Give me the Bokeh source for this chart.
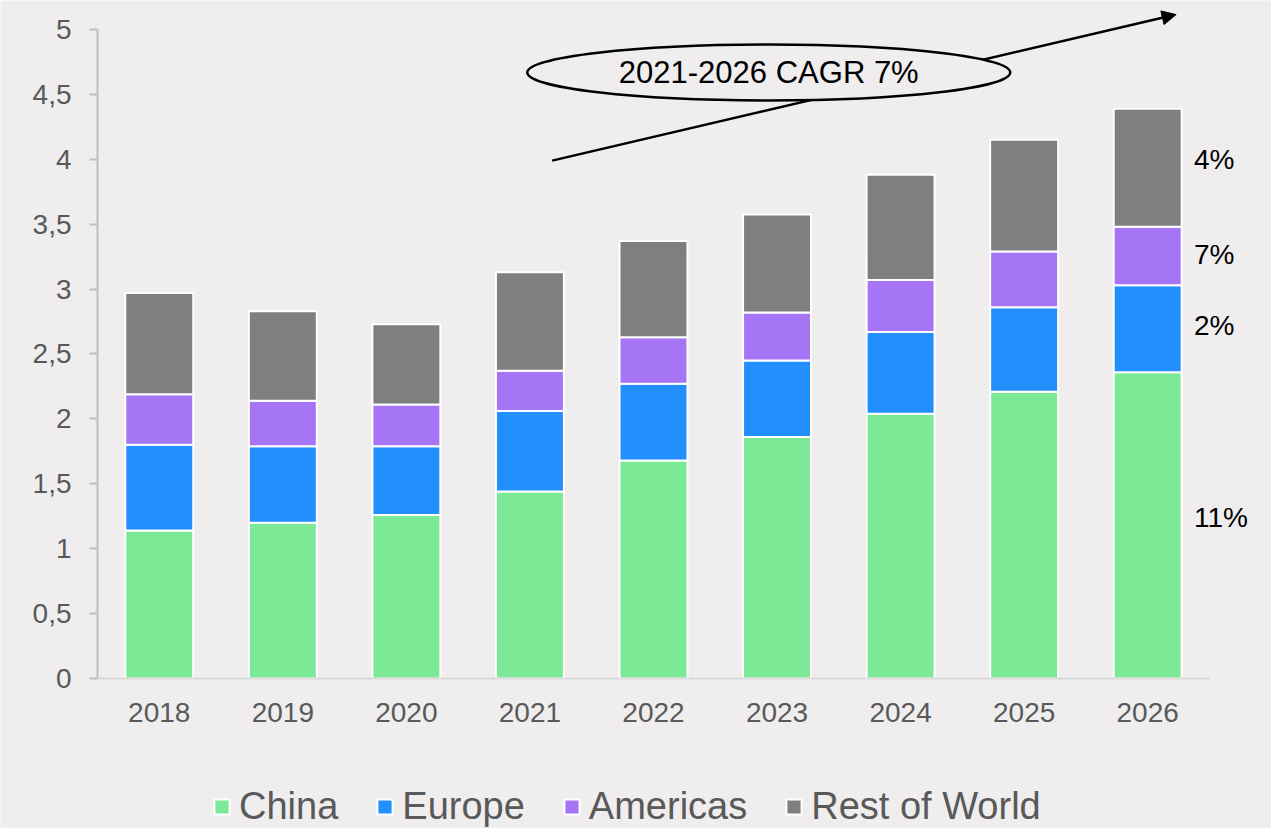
from bokeh.plotting import figure
from bokeh.models import (ColumnDataSource, Range1d, FixedTicker, CustomJSTickFormatter,
                          Label, Arrow, NormalHead)
from bokeh.core.properties import value
from bokeh.embed import file_html
from bokeh.resources import INLINE

years = ["2018", "2019", "2020", "2021", "2022", "2023", "2024", "2025", "2026"]
series = ["China", "Europe", "Americas", "Rest of World"]
china = [1.14, 1.20, 1.26, 1.44, 1.68, 1.86, 2.04, 2.21, 2.36]
europe = [0.66, 0.59, 0.53, 0.62, 0.59, 0.59, 0.63, 0.65, 0.67]
americas = [0.39, 0.35, 0.32, 0.31, 0.36, 0.37, 0.40, 0.43, 0.45]
rest = [0.78, 0.69, 0.62, 0.76, 0.74, 0.755, 0.81, 0.86, 0.91]
colors = ["#7CE996", "#238FFC", "#A675F5", "#7F7F7F"]
y_ticks = [0, 0.5, 1, 1.5, 2, 2.5, 3, 3.5, 4, 4.5, 5]
cagr_text = "2021-2026 CAGR 7%"
segment_cagr = ["11%", "2%", "7%", "4%"]
segment_label_y = [1.24, 2.72, 3.27, 4.0]

BG = "#EFEDEE"
FONT = "Liberation Sans"

xs = list(range(len(years)))
source = ColumnDataSource(dict(x=xs, China=china, Europe=europe, Americas=americas,
                               **{"Rest of World": rest}))

# frame covers the whole canvas; axes are placed at fixed locations
p = figure(width=1271, height=828, output_backend="svg", toolbar_location=None,
           x_range=Range1d(-1.285, 9.002), y_range=Range1d(-1.1556, 5.2234),
           min_border_left=0, min_border_right=0, min_border_top=0, min_border_bottom=0)
p.background_fill_color = BG
p.border_fill_color = BG
p.outline_line_color = None
p.xgrid.visible = False
p.ygrid.visible = False

p.vbar_stack(series, x="x", width=0.55, color=colors, line_color="white", line_width=2,
             source=source, legend_label=series)

# y axis
ya = p.yaxis[0]
ya.fixed_location = -0.5
ya.ticker = FixedTicker(ticks=y_ticks)
ya.formatter = CustomJSTickFormatter(code="return tick.toString().replace('.', ',');")
ya.bounds = (0, 5)
ya.axis_line_color = "#BFBFBF"
ya.axis_line_width = 2
ya.major_tick_line_color = "#BFBFBF"
ya.major_tick_line_width = 2
ya.major_tick_out = 8
ya.major_tick_in = 0
ya.minor_tick_line_color = None
ya.major_label_text_font = FONT
ya.major_label_text_font_size = "28px"
ya.major_label_text_color = "#595959"
ya.major_label_standoff = 18

# x axis
xa = p.xaxis[0]
xa.fixed_location = 0
xa.bounds = (-0.5, 8.5)
xa.ticker = FixedTicker(ticks=xs)
xa.major_label_overrides = {i: y for i, y in zip(xs, years)}
xa.axis_line_color = "#D9D9D9"
xa.axis_line_width = 2
xa.major_tick_line_color = None
xa.minor_tick_line_color = None
xa.major_label_text_font = FONT
xa.major_label_text_font_size = "28px"
xa.major_label_text_color = "#595959"
xa.major_label_standoff = 18

# legend
lg = p.legend[0]
lg.orientation = "horizontal"
lg.location = (212, 0)
lg.background_fill_alpha = 0
lg.border_line_color = None
lg.padding = 0
lg.margin = 0
lg.spacing = 37
lg.glyph_width = 19
lg.glyph_height = 19
lg.label_standoff = 8
lg.label_text_font = FONT
lg.label_text_font_size = "38px"
lg.label_text_color = "#595959"

# CAGR annotation
arrow = Arrow(end=NormalHead(size=14, fill_color="black", line_color="black"),
              x_start=3.18, y_start=3.99, x_end=8.23, y_end=5.115,
              line_color="black", line_width=2.5)
p.add_layout(arrow)
p.ellipse(x=[4.933], y=[4.669], width=483, height=56, width_units="screen",
          height_units="screen", fill_color=BG, line_color="black", line_width=2.5,
          level="overlay")
p.text(x=[4.933], y=[4.669], text=[cagr_text], text_align="center", text_baseline="middle",
       text_font=value(FONT), text_font_size="31px", text_color="black", level="overlay")

for txt, yv in zip(segment_cagr, segment_label_y):
    p.add_layout(Label(x=8.375, y=yv, text=txt, text_align="left", text_baseline="middle",
                       text_font=FONT, text_font_size="28px", text_color="black"))

open("out.html", "w").write(file_html(p, INLINE))
